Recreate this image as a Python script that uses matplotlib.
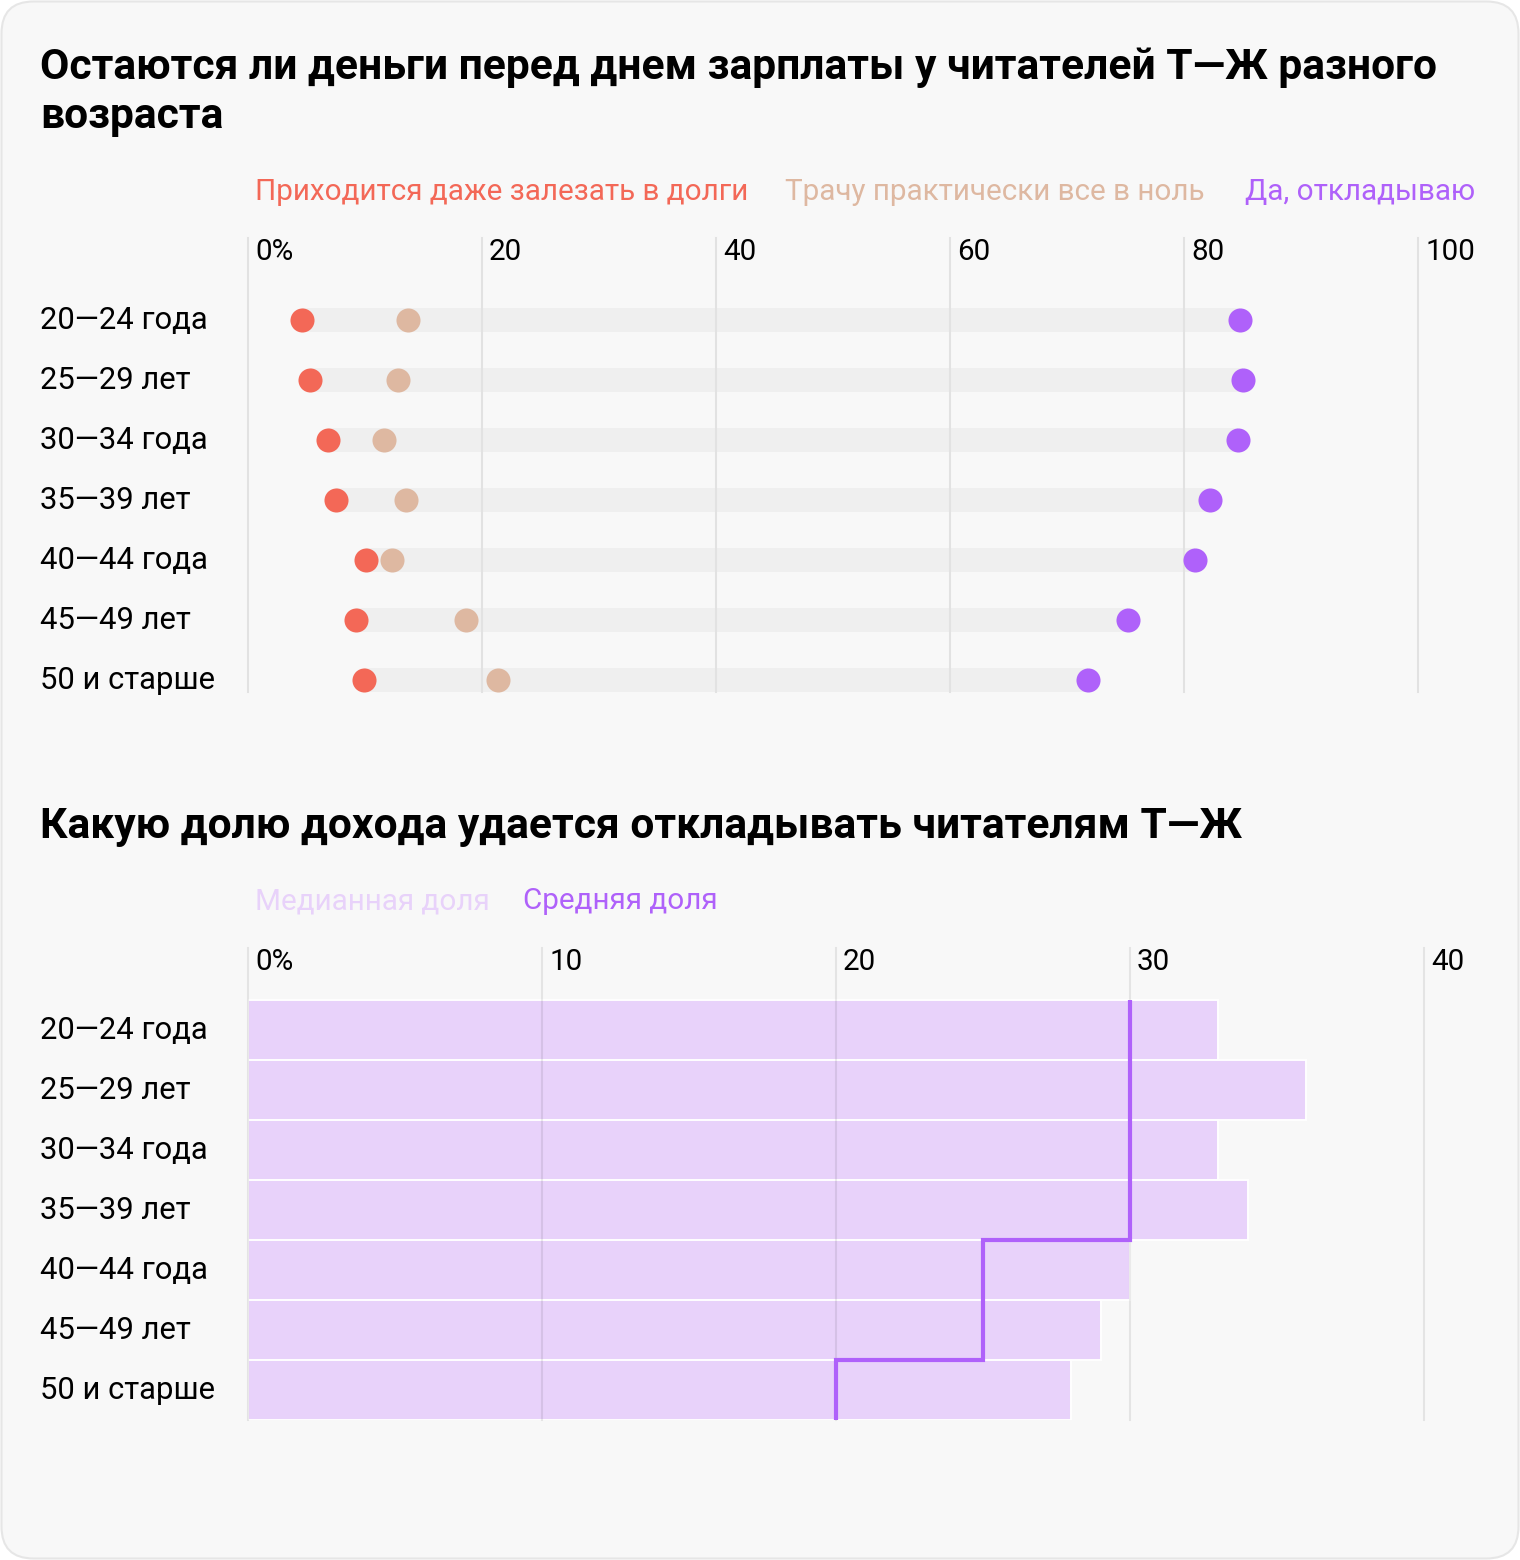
import matplotlib.pyplot as plt
import numpy as np
from matplotlib.patches import FancyBboxPatch
from matplotlib.transforms import IdentityTransform

plt.rcParams['font.family'] = ['Roboto', 'DejaVu Sans']

# --- data ---
ages = ['20—24 года', '25—29 лет', '30—34 года', '35—39 лет',
        '40—44 года', '45—49 лет', '50 и старше']

debt = [4.6, 5.3, 6.8, 7.5, 10.1, 9.2, 9.9]          # Приходится даже залезать в долги
zero = [13.7, 12.8, 11.6, 13.5, 12.3, 18.6, 21.4]    # Трачу практически все в ноль
saving = [84.8, 85.0, 84.6, 82.2, 80.9, 75.2, 71.8]  # Да, откладываю
ticks_top = [0, 20, 40, 60, 80, 100]
tick_labels_top = ['0%', '20', '40', '60', '80', '100']

median_share = [33, 36, 33, 34, 30, 29, 28]
mean_share = [30, 30, 30, 30, 25, 25, 20]
ticks_bottom = [0, 10, 20, 30, 40]
tick_labels_bottom = ['0%', '10', '20', '30', '40']

RED = '#f36857'
BEIGE = '#deb8a1'
PURPLE = '#af61fa'
LILAC = '#e8d2fa'
GRID = '#e2e2e2'

W, H = 1520, 1560
PT = 0.72   # pixels -> points at dpi 100
FS = 21.3   # regular text
FL = 22.3   # row labels
FT = 30.7   # titles

fig = plt.figure(figsize=(W / 100, H / 100), dpi=100, facecolor='white')

# rounded card background
card = FancyBboxPatch((1.5, 1.5), W - 3, H - 3,
                      boxstyle='round,pad=0,rounding_size=32',
                      transform=IdentityTransform(),
                      facecolor='#f8f8f8', edgecolor='#e6e6e6', lw=1.5, zorder=-10)
fig.add_artist(card)


def ftext(x, y, s, **kw):
    # x, y in pixels from top-left, y is baseline
    fig.text(x / W, 1 - y / H, s, va='baseline', ha='left', **kw)


def add_ax(left, top, right, bottom):
    ax = fig.add_axes([left / W, 1 - bottom / H, (right - left) / W, (bottom - top) / H])
    ax.set_facecolor('none')
    ax.axis('off')
    return ax


# ================= top chart =================
ftext(40, 79, 'Остаются ли деньги перед днем зарплаты у читателей Т—Ж разного',
      fontsize=FT, fontweight='bold', color='black')
ftext(40, 128, 'возраста', fontsize=FT, fontweight='bold', color='black')

ftext(255, 200, 'Приходится даже залезать в долги', fontsize=FS, color=RED)
ftext(785, 200, 'Трачу практически все в ноль', fontsize=FS, color=BEIGE)
ftext(1245, 200, 'Да, откладываю', fontsize=FS, color=PURPLE)

ax1 = add_ax(248, 238, 1418, 692)
y = np.arange(len(ages))
ax1.set_xlim(0, 100)
ax1.set_ylim(6 + 12 / 60, -82 / 60)

for t, lbl in zip(ticks_top, tick_labels_top):
    ax1.axvline(t, color=GRID, lw=1.5, zorder=2, clip_on=False)
    ax1.annotate(lbl, (t, 1), xycoords=('data', 'axes fraction'),
                 xytext=(7 * PT, -22 * PT), textcoords='offset points',
                 va='baseline', ha='left', fontsize=FS)

ax1.barh(y, np.array(saving) - np.array(debt), left=debt, height=0.4,
         color='#efefef', zorder=1)
ax1.scatter(debt, y, s=300, color=RED, linewidths=0, zorder=3, clip_on=False)
ax1.scatter(zero, y, s=300, color=BEIGE, linewidths=0, zorder=3, clip_on=False)
ax1.scatter(saving, y, s=300, color=PURPLE, linewidths=0, zorder=3, clip_on=False)

for yi, lbl in zip(y, ages):
    ax1.annotate(lbl, (0, yi), xycoords=('axes fraction', 'data'),
                 xytext=(-208 * PT, -9 * PT), textcoords='offset points',
                 va='baseline', ha='left', fontsize=FL)

# ================= bottom chart =================
ftext(40, 838, 'Какую долю дохода удается откладывать читателям Т—Ж',
      fontsize=FT, fontweight='bold', color='black')
ftext(255, 909, 'Медианная доля', fontsize=FS, color=LILAC)
ftext(523, 909, 'Средняя доля', fontsize=FS, color=PURPLE)

ax2 = add_ax(248, 948, 1424, 1420)
ax2.set_xlim(0, 40)
ax2.set_ylim(6.5, -0.5 - 52 / 60)

ax2.barh(y, median_share, height=1, color=LILAC, edgecolor='white', lw=1.4, zorder=1)

for t, lbl in zip(ticks_bottom, tick_labels_bottom):
    ax2.axvline(t, color='black', alpha=0.08, lw=1.5, zorder=2, clip_on=False)
    ax2.annotate(lbl, (t, 1), xycoords=('data', 'axes fraction'),
                 xytext=(7 * PT, -22 * PT), textcoords='offset points',
                 va='baseline', ha='left', fontsize=FS)

ax2.stairs(mean_share, np.arange(len(ages) + 1) - 0.5, orientation='horizontal',
           baseline=None, color=PURPLE, lw=3, zorder=3)

for yi, lbl in zip(y, ages):
    ax2.annotate(lbl, (0, yi), xycoords=('axes fraction', 'data'),
                 xytext=(-208 * PT, -9 * PT), textcoords='offset points',
                 va='baseline', ha='left', fontsize=FL)

fig.savefig('out.png', dpi=100, facecolor='white')
